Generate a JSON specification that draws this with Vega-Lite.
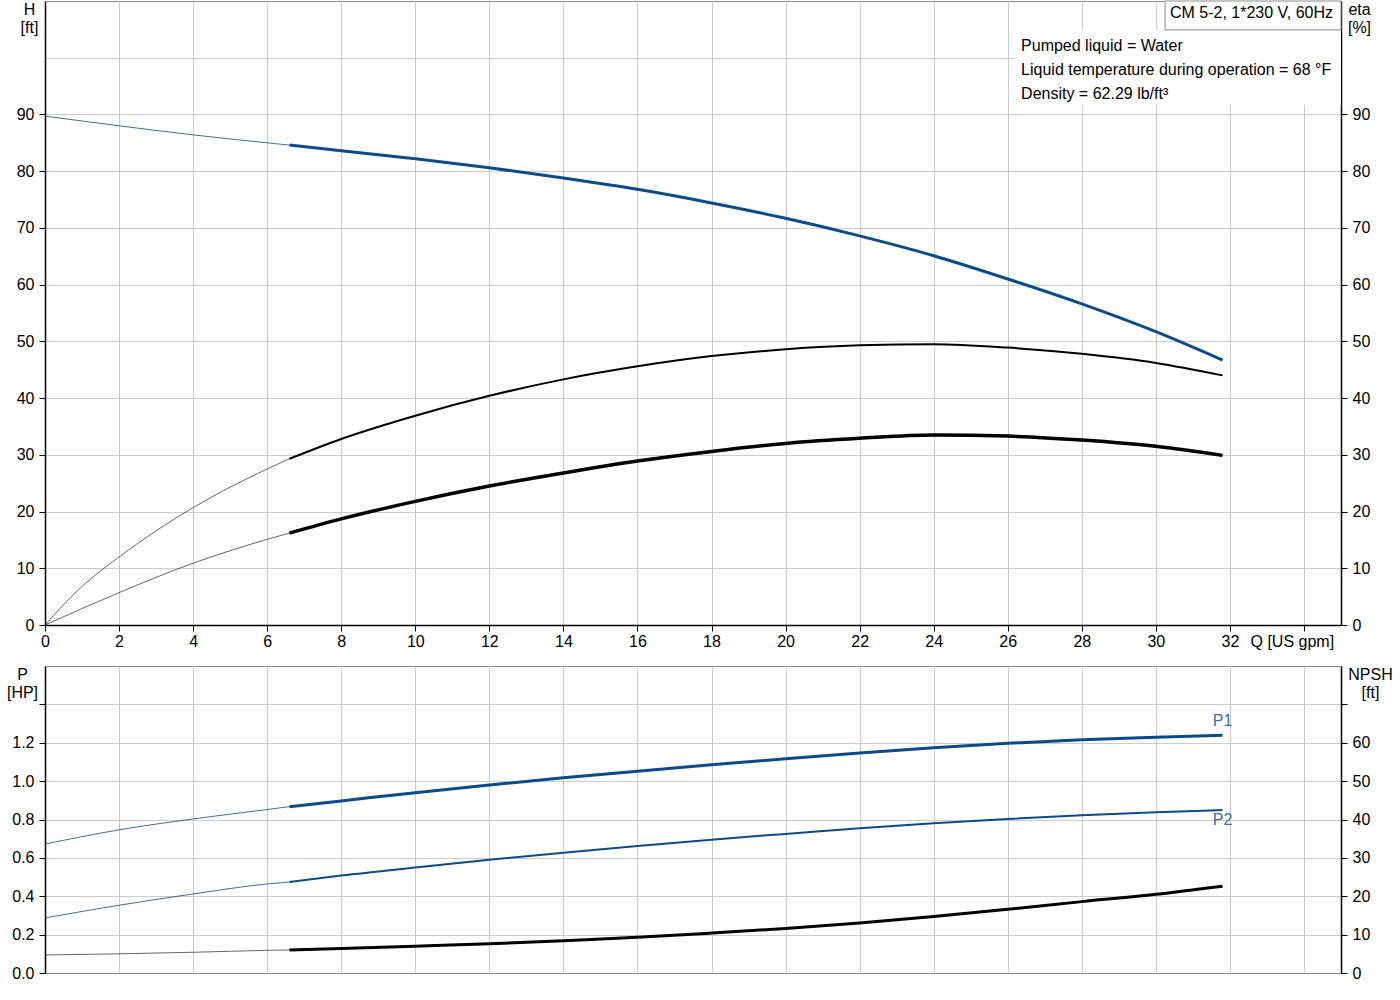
{
  "$schema": "https://vega.github.io/schema/vega-lite/v6.json",
  "background": "white",
  "padding": {"left": 5, "top": 0, "right": 0, "bottom": 0},
  "bounds": "flush",
  "spacing": 41,
  "config": {
    "font": "Liberation Sans",
    "view": {"stroke": "#8c8c8c", "strokeWidth": 1},
    "axis": {
      "labelFont": "Liberation Sans",
      "titleFont": "Liberation Sans",
      "labelFontSize": 16,
      "titleFontSize": 16,
      "titleFontWeight": "normal",
      "labelColor": "#000000",
      "titleColor": "#000000",
      "gridColor": "#cccccc",
      "gridWidth": 1,
      "domainColor": "#000000",
      "domainWidth": 1.5,
      "tickColor": "#000000",
      "tickWidth": 1,
      "labelFlush": false,
      "labelOverlap": false
    },
    "text": {"font": "Liberation Sans", "fontSize": 16}
  },
  "datasets": {
    "curves": [
      {"series": "H", "part": "extrapolated", "q": 0, "v": 89.7},
      {"series": "H", "part": "extrapolated", "q": 2, "v": 88.0},
      {"series": "H", "part": "extrapolated", "q": 4, "v": 86.4},
      {"series": "H", "part": "extrapolated", "q": 6, "v": 85.0},
      {"series": "H", "part": "extrapolated", "q": 6.6, "v": 84.6},
      {"series": "H", "part": "operating", "q": 6.6, "v": 84.6},
      {"series": "H", "part": "operating", "q": 8, "v": 83.6},
      {"series": "H", "part": "operating", "q": 10, "v": 82.2},
      {"series": "H", "part": "operating", "q": 12, "v": 80.6},
      {"series": "H", "part": "operating", "q": 14, "v": 78.8},
      {"series": "H", "part": "operating", "q": 16, "v": 76.8},
      {"series": "H", "part": "operating", "q": 18, "v": 74.4},
      {"series": "H", "part": "operating", "q": 20, "v": 71.7},
      {"series": "H", "part": "operating", "q": 22, "v": 68.6},
      {"series": "H", "part": "operating", "q": 24, "v": 65.1},
      {"series": "H", "part": "operating", "q": 26, "v": 61.0},
      {"series": "H", "part": "operating", "q": 28, "v": 56.6},
      {"series": "H", "part": "operating", "q": 30, "v": 51.7},
      {"series": "H", "part": "operating", "q": 31.8, "v": 46.7},

      {"series": "eta", "part": "extrapolated", "q": 0, "v": 0},
      {"series": "eta", "part": "extrapolated", "q": 1, "v": 6.8},
      {"series": "eta", "part": "extrapolated", "q": 2, "v": 12.0},
      {"series": "eta", "part": "extrapolated", "q": 3, "v": 16.6},
      {"series": "eta", "part": "extrapolated", "q": 4, "v": 20.7},
      {"series": "eta", "part": "extrapolated", "q": 5, "v": 24.3},
      {"series": "eta", "part": "extrapolated", "q": 6, "v": 27.5},
      {"series": "eta", "part": "extrapolated", "q": 6.6, "v": 29.3},
      {"series": "eta", "part": "operating", "q": 6.6, "v": 29.3},
      {"series": "eta", "part": "operating", "q": 8, "v": 32.8},
      {"series": "eta", "part": "operating", "q": 10, "v": 36.9},
      {"series": "eta", "part": "operating", "q": 12, "v": 40.4},
      {"series": "eta", "part": "operating", "q": 14, "v": 43.3},
      {"series": "eta", "part": "operating", "q": 16, "v": 45.6},
      {"series": "eta", "part": "operating", "q": 18, "v": 47.4},
      {"series": "eta", "part": "operating", "q": 20, "v": 48.6},
      {"series": "eta", "part": "operating", "q": 22, "v": 49.3},
      {"series": "eta", "part": "operating", "q": 24, "v": 49.5},
      {"series": "eta", "part": "operating", "q": 26, "v": 48.9},
      {"series": "eta", "part": "operating", "q": 28, "v": 47.8},
      {"series": "eta", "part": "operating", "q": 30, "v": 46.2},
      {"series": "eta", "part": "operating", "q": 31.8, "v": 44.0},

      {"series": "eta total", "part": "extrapolated", "q": 0, "v": 0},
      {"series": "eta total", "part": "extrapolated", "q": 1, "v": 2.9},
      {"series": "eta total", "part": "extrapolated", "q": 2, "v": 5.7},
      {"series": "eta total", "part": "extrapolated", "q": 3, "v": 8.4},
      {"series": "eta total", "part": "extrapolated", "q": 4, "v": 10.9},
      {"series": "eta total", "part": "extrapolated", "q": 5, "v": 13.1},
      {"series": "eta total", "part": "extrapolated", "q": 6, "v": 15.1},
      {"series": "eta total", "part": "extrapolated", "q": 6.6, "v": 16.2},
      {"series": "eta total", "part": "operating", "q": 6.6, "v": 16.2},
      {"series": "eta total", "part": "operating", "q": 8, "v": 18.7},
      {"series": "eta total", "part": "operating", "q": 10, "v": 21.8},
      {"series": "eta total", "part": "operating", "q": 12, "v": 24.5},
      {"series": "eta total", "part": "operating", "q": 14, "v": 26.8},
      {"series": "eta total", "part": "operating", "q": 16, "v": 28.9},
      {"series": "eta total", "part": "operating", "q": 18, "v": 30.6},
      {"series": "eta total", "part": "operating", "q": 20, "v": 32.0},
      {"series": "eta total", "part": "operating", "q": 22, "v": 32.9},
      {"series": "eta total", "part": "operating", "q": 24, "v": 33.5},
      {"series": "eta total", "part": "operating", "q": 26, "v": 33.3},
      {"series": "eta total", "part": "operating", "q": 28, "v": 32.6},
      {"series": "eta total", "part": "operating", "q": 30, "v": 31.5},
      {"series": "eta total", "part": "operating", "q": 31.8, "v": 29.9},

      {"series": "P1", "part": "extrapolated", "q": 0, "v": 0.672},
      {"series": "P1", "part": "extrapolated", "q": 2, "v": 0.746},
      {"series": "P1", "part": "extrapolated", "q": 4, "v": 0.803},
      {"series": "P1", "part": "extrapolated", "q": 6, "v": 0.852},
      {"series": "P1", "part": "extrapolated", "q": 6.6, "v": 0.867},
      {"series": "P1", "part": "operating", "q": 6.6, "v": 0.867},
      {"series": "P1", "part": "operating", "q": 8, "v": 0.897},
      {"series": "P1", "part": "operating", "q": 10, "v": 0.94},
      {"series": "P1", "part": "operating", "q": 12, "v": 0.98},
      {"series": "P1", "part": "operating", "q": 14, "v": 1.017},
      {"series": "P1", "part": "operating", "q": 16, "v": 1.052},
      {"series": "P1", "part": "operating", "q": 18, "v": 1.085},
      {"series": "P1", "part": "operating", "q": 20, "v": 1.117},
      {"series": "P1", "part": "operating", "q": 22, "v": 1.147},
      {"series": "P1", "part": "operating", "q": 24, "v": 1.174},
      {"series": "P1", "part": "operating", "q": 26, "v": 1.197},
      {"series": "P1", "part": "operating", "q": 28, "v": 1.215},
      {"series": "P1", "part": "operating", "q": 30, "v": 1.229},
      {"series": "P1", "part": "operating", "q": 31.8, "v": 1.239},

      {"series": "P2", "part": "extrapolated", "q": 0, "v": 0.287},
      {"series": "P2", "part": "extrapolated", "q": 2, "v": 0.353},
      {"series": "P2", "part": "extrapolated", "q": 4, "v": 0.412},
      {"series": "P2", "part": "extrapolated", "q": 6, "v": 0.464},
      {"series": "P2", "part": "extrapolated", "q": 6.6, "v": 0.474},
      {"series": "P2", "part": "operating", "q": 6.6, "v": 0.474},
      {"series": "P2", "part": "operating", "q": 8, "v": 0.508},
      {"series": "P2", "part": "operating", "q": 10, "v": 0.55},
      {"series": "P2", "part": "operating", "q": 12, "v": 0.59},
      {"series": "P2", "part": "operating", "q": 14, "v": 0.627},
      {"series": "P2", "part": "operating", "q": 16, "v": 0.662},
      {"series": "P2", "part": "operating", "q": 18, "v": 0.695},
      {"series": "P2", "part": "operating", "q": 20, "v": 0.725},
      {"series": "P2", "part": "operating", "q": 22, "v": 0.755},
      {"series": "P2", "part": "operating", "q": 24, "v": 0.781},
      {"series": "P2", "part": "operating", "q": 26, "v": 0.803},
      {"series": "P2", "part": "operating", "q": 28, "v": 0.822},
      {"series": "P2", "part": "operating", "q": 30, "v": 0.838},
      {"series": "P2", "part": "operating", "q": 31.8, "v": 0.849},

      {"series": "NPSH", "part": "extrapolated", "q": 0, "v": 4.7},
      {"series": "NPSH", "part": "extrapolated", "q": 2, "v": 5.0},
      {"series": "NPSH", "part": "extrapolated", "q": 4, "v": 5.4},
      {"series": "NPSH", "part": "extrapolated", "q": 6, "v": 5.9},
      {"series": "NPSH", "part": "extrapolated", "q": 6.6, "v": 6.0},
      {"series": "NPSH", "part": "operating", "q": 6.6, "v": 6.0},
      {"series": "NPSH", "part": "operating", "q": 8, "v": 6.4},
      {"series": "NPSH", "part": "operating", "q": 10, "v": 7.0},
      {"series": "NPSH", "part": "operating", "q": 12, "v": 7.6},
      {"series": "NPSH", "part": "operating", "q": 14, "v": 8.4},
      {"series": "NPSH", "part": "operating", "q": 16, "v": 9.3},
      {"series": "NPSH", "part": "operating", "q": 18, "v": 10.4},
      {"series": "NPSH", "part": "operating", "q": 20, "v": 11.6},
      {"series": "NPSH", "part": "operating", "q": 22, "v": 13.0},
      {"series": "NPSH", "part": "operating", "q": 24, "v": 14.7},
      {"series": "NPSH", "part": "operating", "q": 26, "v": 16.6},
      {"series": "NPSH", "part": "operating", "q": 28, "v": 18.6},
      {"series": "NPSH", "part": "operating", "q": 30, "v": 20.5},
      {"series": "NPSH", "part": "operating", "q": 31.8, "v": 22.6}
    ]
  },
  "vconcat": [
    {
      "width": 1296,
      "height": 624,
      "layer": [
        {
          "layer": [
            {
              "data": {"name": "curves"},
              "transform": [{"filter": "datum.series == 'H' && datum.part == 'extrapolated'"}],
              "mark": {"type": "line", "interpolate": "monotone", "strokeWidth": 1, "color": "#0b4a8b", "opacity": 0.8},
              "encoding": {
                "x": {
                  "field": "q",
                  "type": "quantitative",
                  "scale": {"domain": [0, 35], "nice": false, "zero": false},
                  "axis": {
                    "values": [0, 2, 4, 6, 8, 10, 12, 14, 16, 18, 20, 22, 24, 26, 28, 30, 32, 34],
                    "labelExpr": "datum.value == 34 ? '' : datum.label",
                    "labelOverlap": false,
                    "title": "Q [US gpm]",
                    "titleAlign": "left",
                    "titleBaseline": "top",
                    "titleX": 1205,
                    "titleY": 8,
                    "tickSize": 6,
                    "labelPadding": 2,
                    "grid": true
                  }
                },
                "y": {
                  "field": "v",
                  "type": "quantitative",
                  "scale": {"domain": [0, 110], "nice": false},
                  "axis": {
                    "values": [0, 10, 20, 30, 40, 50, 60, 70, 80, 90, 100],
                    "labelExpr": "datum.value > 95 ? '' : datum.label",
                    "labelOverlap": false,
                    "tickOpacity": {"condition": {"test": "datum.value > 95", "value": 0}, "value": 1},
                    "title": ["H", "[ft]"],
                    "titleAngle": 0,
                    "titleAlign": "center",
                    "titleBaseline": "top",
                    "titleX": -16,
                    "titleY": 0,
                    "titleLineHeight": 18,
                    "tickSize": 6,
                    "labelPadding": 5,
                    "grid": true
                  }
                }
              }
            },
            {
              "data": {"name": "curves"},
              "transform": [{"filter": "datum.series == 'H' && datum.part == 'operating'"}],
              "mark": {"type": "line", "interpolate": "monotone", "strokeWidth": 3, "color": "#0b4a8b"},
              "encoding": {
                "x": {"field": "q", "type": "quantitative"},
                "y": {"field": "v", "type": "quantitative"}
              }
            },
            {
              "data": {"values": [{}]},
              "mark": {"type": "rect", "fill": "white"},
              "encoding": {
                "x": {"datum": 26.2, "type": "quantitative"},
                "x2": {"datum": 35},
                "y": {"datum": 91.7, "type": "quantitative"},
                "y2": {"datum": 104.9}
              }
            },
            {
              "data": {"values": [{}]},
              "mark": {"type": "rect", "fill": "white", "stroke": "#8c8c8c", "strokeWidth": 1},
              "encoding": {
                "x": {"datum": 30.25, "type": "quantitative"},
                "x2": {"datum": 35},
                "y": {"datum": 104.9, "type": "quantitative"},
                "y2": {"datum": 110}
              }
            },
            {
              "data": {"values": [{}]},
              "mark": {"type": "text", "text": "CM 5-2, 1*230 V, 60Hz", "align": "left", "baseline": "middle", "fontSize": 16, "color": "#000000"},
              "encoding": {
                "x": {"datum": 30.38, "type": "quantitative"},
                "y": {"datum": 107.9, "type": "quantitative"}
              }
            },
            {
              "data": {"values": [{}]},
              "mark": {
                "type": "text",
                "text": ["Pumped liquid = Water", "Liquid temperature during operation = 68 °F", "Density = 62.29 lb/ft³"],
                "lineHeight": 24,
                "align": "left",
                "baseline": "middle",
                "fontSize": 16,
                "color": "#000000"
              },
              "encoding": {
                "x": {"datum": 26.36, "type": "quantitative"},
                "y": {"datum": 102.1, "type": "quantitative"}
              }
            }
          ]
        },
        {
          "data": {"name": "curves"},
          "layer": [
            {
              "transform": [{"filter": "(datum.series == 'eta' || datum.series == 'eta total') && datum.part == 'extrapolated'"}],
              "mark": {"type": "line", "interpolate": "monotone", "strokeWidth": 1, "color": "#000000", "opacity": 0.6},
              "encoding": {
                "x": {"field": "q", "type": "quantitative"},
                "y": {
                  "field": "v",
                  "type": "quantitative",
                  "scale": {"domain": [0, 110], "nice": false},
                  "axis": {
                    "orient": "right",
                    "values": [0, 10, 20, 30, 40, 50, 60, 70, 80, 90],
                    "labelOverlap": false,
                    "title": ["eta", "[%]"],
                    "titleAngle": 0,
                    "titleAlign": "center",
                    "titleBaseline": "top",
                    "titleX": 18,
                    "titleY": 0,
                    "titleLineHeight": 18,
                    "tickSize": 6,
                    "labelPadding": 5,
                    "grid": false
                  }
                },
                "detail": {"field": "series", "type": "nominal"}
              }
            },
            {
              "transform": [{"filter": "datum.series == 'eta' && datum.part == 'operating'"}],
              "mark": {"type": "line", "interpolate": "monotone", "strokeWidth": 2, "color": "#000000"},
              "encoding": {
                "x": {"field": "q", "type": "quantitative"},
                "y": {"field": "v", "type": "quantitative"}
              }
            },
            {
              "transform": [{"filter": "datum.series == 'eta total' && datum.part == 'operating'"}],
              "mark": {"type": "line", "interpolate": "monotone", "strokeWidth": 3.5, "color": "#000000"},
              "encoding": {
                "x": {"field": "q", "type": "quantitative"},
                "y": {"field": "v", "type": "quantitative"}
              }
            }
          ]
        }
      ],
      "resolve": {"scale": {"y": "independent"}}
    },
    {
      "width": 1296,
      "height": 307,
      "layer": [
        {
          "layer": [
            {
              "data": {"name": "curves"},
              "transform": [{"filter": "(datum.series == 'P1' || datum.series == 'P2') && datum.part == 'extrapolated'"}],
              "mark": {"type": "line", "interpolate": "monotone", "strokeWidth": 1, "color": "#0b4a8b", "opacity": 0.8},
              "encoding": {
                "x": {
                  "field": "q",
                  "type": "quantitative",
                  "scale": {"domain": [0, 35], "nice": false, "zero": false},
                  "axis": {
                    "values": [0, 2, 4, 6, 8, 10, 12, 14, 16, 18, 20, 22, 24, 26, 28, 30, 32, 34],
                    "labels": false,
                    "ticks": false,
                    "title": null,
                    "grid": true,
                    "domainColor": "#8c8c8c",
                    "domainWidth": 1
                  }
                },
                "y": {
                  "field": "v",
                  "type": "quantitative",
                  "scale": {"domain": [0, 1.6], "nice": false},
                  "axis": {
                    "values": [0, 0.2, 0.4, 0.6, 0.8, 1, 1.2, 1.4],
                    "labelExpr": "datum.value > 1.3 ? '' : format(datum.value, '.1f')",
                    "labelOverlap": false,
                    "title": ["P", "[HP]"],
                    "titleAngle": 0,
                    "titleAlign": "center",
                    "titleBaseline": "top",
                    "titleX": -23,
                    "titleY": 0,
                    "titleLineHeight": 18,
                    "tickSize": 6,
                    "labelPadding": 5,
                    "grid": true
                  }
                },
                "detail": {"field": "series", "type": "nominal"}
              }
            },
            {
              "data": {"name": "curves"},
              "transform": [{"filter": "datum.series == 'P1' && datum.part == 'operating'"}],
              "mark": {"type": "line", "interpolate": "monotone", "strokeWidth": 3, "color": "#0b4a8b"},
              "encoding": {
                "x": {"field": "q", "type": "quantitative"},
                "y": {"field": "v", "type": "quantitative"}
              }
            },
            {
              "data": {"name": "curves"},
              "transform": [{"filter": "datum.series == 'P2' && datum.part == 'operating'"}],
              "mark": {"type": "line", "interpolate": "monotone", "strokeWidth": 2, "color": "#0b4a8b"},
              "encoding": {
                "x": {"field": "q", "type": "quantitative"},
                "y": {"field": "v", "type": "quantitative"}
              }
            },
            {
              "data": {"values": [{}]},
              "mark": {"type": "text", "text": "P1", "align": "center", "baseline": "middle", "fontSize": 16, "color": "#3b6ea8"},
              "encoding": {
                "x": {"datum": 31.8, "type": "quantitative"},
                "y": {"datum": 1.314, "type": "quantitative"}
              }
            },
            {
              "data": {"values": [{}]},
              "mark": {"type": "text", "text": "P2", "align": "center", "baseline": "middle", "fontSize": 16, "color": "#3b6ea8"},
              "encoding": {
                "x": {"datum": 31.8, "type": "quantitative"},
                "y": {"datum": 0.8, "type": "quantitative"}
              }
            }
          ]
        },
        {
          "data": {"name": "curves"},
          "layer": [
            {
              "transform": [{"filter": "datum.series == 'NPSH' && datum.part == 'extrapolated'"}],
              "mark": {"type": "line", "interpolate": "monotone", "strokeWidth": 1, "color": "#000000", "opacity": 0.6},
              "encoding": {
                "x": {"field": "q", "type": "quantitative"},
                "y": {
                  "field": "v",
                  "type": "quantitative",
                  "scale": {"domain": [0, 80], "nice": false},
                  "axis": {
                    "orient": "right",
                    "values": [0, 10, 20, 30, 40, 50, 60, 70],
                    "labelExpr": "datum.value > 65 ? '' : datum.label",
                    "labelOverlap": false,
                    "title": ["NPSH", "[ft]"],
                    "titleAngle": 0,
                    "titleAlign": "center",
                    "titleBaseline": "top",
                    "titleX": 29,
                    "titleY": 0,
                    "titleLineHeight": 18,
                    "tickSize": 6,
                    "labelPadding": 5,
                    "grid": false
                  }
                }
              }
            },
            {
              "transform": [{"filter": "datum.series == 'NPSH' && datum.part == 'operating'"}],
              "mark": {"type": "line", "interpolate": "monotone", "strokeWidth": 3, "color": "#000000"},
              "encoding": {
                "x": {"field": "q", "type": "quantitative"},
                "y": {"field": "v", "type": "quantitative"}
              }
            }
          ]
        }
      ],
      "resolve": {"scale": {"y": "independent"}}
    }
  ]
}
